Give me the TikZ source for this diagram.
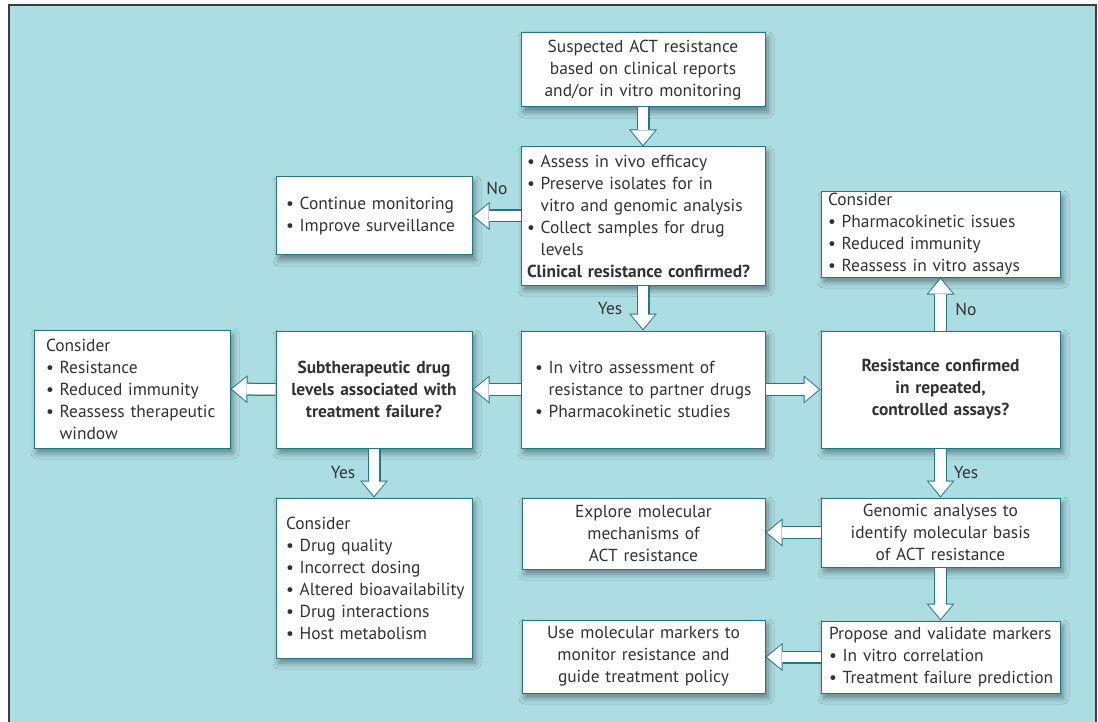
\documentclass[tikz,border=0pt]{standalone}
\usepackage{fontspec}
\setmainfont{PT Sans}
\usetikzlibrary{arrows.meta,shadows.blur}
\definecolor{bg}{RGB}{172,221,227}
\definecolor{edge}{RGB}{34,120,130}
\definecolor{txt}{RGB}{50,50,50}
\definecolor{framec}{RGB}{60,60,60}
\newcommand\bu{\textbullet\ }
\newcommand\hi{\phantom{\textbullet\ }}
\begin{document}
\begin{tikzpicture}[x=1pt,y=-1pt,
  font=\fontsize{17.4}{22}\selectfont, text=txt,
  box/.style={draw=edge, line width=1pt, fill=white, inner sep=0pt,
    blur shadow={shadow xshift=3pt, shadow yshift=-5pt, shadow blur radius=6pt,
      shadow opacity=42}},
  lbl/.style={inner sep=0pt},
  barrow/.style={draw=edge, line width=13pt,
    -{Triangle[width=28pt,length=17pt,line width=0pt]},
    postaction={draw=white, line width=10.5pt, shorten >=1.6pt,
      -{Triangle[width=24pt,length=14.4pt,line width=0pt]}}}]
\useasboundingbox (0,0) rectangle (1098,722);
\fill[white] (0,0) rectangle (1098,722);
\fill[bg] (8,5) rectangle (1096,722);
\draw[framec, line width=2pt] (8.5,730) -- (8.5,5.5) -- (1096,5.5) -- (1096,730);

\node[box, minimum width=244pt, minimum height=74pt, text width=236pt, align=center] (n1) at (643,70)
  {Suspected ACT resistance\\based on clinical reports\\and/or in vitro monitoring};
\node[box, minimum width=244pt, minimum height=138pt, text width=232pt, align=left] (n2) at (643,216)
  {\mbox{\bu Assess in vivo efficacy}\\\mbox{\bu Preserve isolates for in}\\\mbox{\hi vitro and genomic analysis}\\\mbox{\bu Collect samples for drug}\\\hi levels\\\mbox{\textbf{Clinical resistance confirmed?}}};
\node[box, minimum width=196pt, minimum height=78pt, text width=176pt, align=left] (n3) at (374,216)
  {\mbox{\bu Continue monitoring}\\\mbox{\bu Improve surveillance}};
\node[box, minimum width=244pt, minimum height=117pt, text width=216pt, align=left] (n4) at (643,389.5)
  {\mbox{\bu In vitro assessment of}\\\mbox{\hi resistance to partner drugs}\\\mbox{\bu Pharmacokinetic studies}};
\node[box, minimum width=239pt, minimum height=117pt, text width=231pt, align=center] (n5) at (940.5,389.5)
  {\textbf{Resistance confirmed}\\\textbf{in repeated,}\\\textbf{controlled assays?}};
\node[box, minimum width=239pt, minimum height=85pt, text width=225pt, align=left] (n6) at (940.5,234.5)
  {Consider\\\mbox{\bu Pharmacokinetic issues}\\\mbox{\bu Reduced immunity}\\\mbox{\bu Reassess in vitro assays}};
\node[box, minimum width=196pt, minimum height=117pt, text width=190pt, align=center] (n7) at (374,389.5)
  {\textbf{Subtherapeutic drug}\\\textbf{levels associated with}\\\textbf{treatment failure?}};
\node[box, minimum width=196pt, minimum height=118pt, text width=172pt, align=left] (n8) at (132,389)
  {Consider\\\mbox{\bu Resistance}\\\mbox{\bu Reduced immunity}\\\mbox{\bu Reassess therapeutic}\\\hi window};
\node[box, minimum width=196pt, minimum height=160pt, text width=176pt, align=left] (n9) at (374,578)
  {Consider\\\mbox{\bu Drug quality}\\\mbox{\bu Incorrect dosing}\\\mbox{\bu Altered bioavailability}\\\mbox{\bu Drug interactions}\\\mbox{\bu Host metabolism}};
\node[box, minimum width=239pt, minimum height=72pt, text width=223pt, align=left] (n11) at (940.5,657)
  {\mbox{Propose and validate markers}\\\mbox{\bu In vitro correlation}\\\mbox{\bu Treatment failure prediction}};
\node[box, minimum width=239pt, minimum height=69pt, text width=231pt, align=center] (n10) at (940.5,532.5)
  {Genomic analyses to\\identify molecular basis\\of ACT resistance};
\node[box, minimum width=243pt, minimum height=71pt, text width=235pt, align=center] (n12) at (643.5,533.5)
  {Explore molecular\\mechanisms of\\ACT resistance};
\node[box, minimum width=243pt, minimum height=73pt, text width=235pt, align=center] (n13) at (643.5,656.5)
  {Use molecular markers to\\monitor resistance and\\guide treatment policy};

\draw[barrow] (n1.south) -- (n2.north);
\draw[barrow] (n2.south) -- (n4.north);
\draw[barrow] (n2.west) -- (n3.east);
\draw[barrow] (n4.west) -- (n7.east);
\draw[barrow] (n4.east) -- (n5.west);
\draw[barrow] (n7.west) -- (n8.east);
\draw[barrow] (n7.south) -- (n9.north);
\draw[barrow] (n5.north) -- (n6.south);
\draw[barrow] (n5.south) -- (n10.north);
\draw[barrow] (n10.west) -- (n10.west -| n12.east);
\draw[barrow] (n10.south) -- (n11.north);
\draw[barrow] (n11.west) -- (n11.west -| n13.east);

\node[lbl] (l1) at (497,188) {No};
\node[lbl] (l2) at (610,309) {Yes};
\node[lbl] (l3) at (966,309) {No};
\node[lbl] (l4) at (343,473) {Yes};
\node[lbl] (l5) at (966,473) {Yes};
\end{tikzpicture}
\end{document}
